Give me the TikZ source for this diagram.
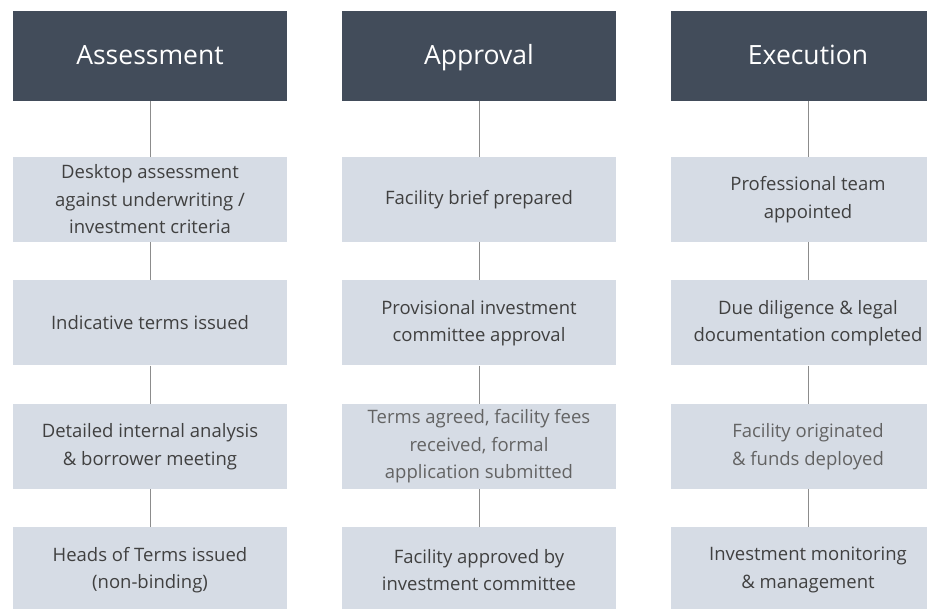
\documentclass[tikz,border=0pt]{standalone}
\usepackage{fontspec}
\setmainfont{Open Sans}
\definecolor{headfill}{HTML}{424C5A}
\definecolor{stepfill}{HTML}{D6DCE5}
\definecolor{steptext}{HTML}{404040}
\definecolor{softtext}{HTML}{636363}
\definecolor{linkgray}{HTML}{8C8C8C}
\begin{document}
\begin{tikzpicture}[x=1pt,y=-1pt,
  head/.style={fill=headfill, text=white, minimum width=274pt, minimum height=90pt, inner sep=0pt, text height=24pt, text depth=6pt, font=\fontsize{26.5}{32}\selectfont},
  stepbox/.style={fill=stepfill, text=steptext, minimum width=274pt, minimum height=85pt, inner sep=0pt, align=center, font=\fontsize{18.5}{27.5}\selectfont},
  soft/.style={text=softtext},
  link/.style={draw=linkgray, line width=1pt}]
\useasboundingbox (0,0) rectangle (927,609);
\clip (0,0) rectangle (927,609);

% Assessment
\node[head] (h1) at (150,56) {Assessment};
\node[stepbox] (a1) at (150,199.5) {Desktop assessment\\against underwriting /\\investment criteria};
\node[stepbox] (a2) at (150,323) {Indicative terms issued};
\node[stepbox] (a3) at (150,446.5) {Detailed internal analysis\\\& borrower meeting};
\node[stepbox] (a4) at (150,570) {Heads of Terms issued\\(non-binding)};

% Approval
\node[head] (h2) at (479,56) {Approval};
\node[stepbox] (p1) at (479,199.5) {Facility brief prepared};
\node[stepbox] (p2) at (479,323) {Provisional investment\\committee approval};
\node[stepbox,soft] (p3) at (479,446.5) {Terms agreed, facility fees\\received, formal\\application submitted};
\node[stepbox] (p4) at (479,570) {Facility approved by\\investment committee};

% Execution
\node[head] (h3) at (808,56) {Execution};
\node[stepbox] (e1) at (808,199.5) {Professional team\\appointed};
\node[stepbox] (e2) at (808,323) {Due diligence \& legal\\documentation completed};
\node[stepbox,soft] (e3) at (808,446.5) {Facility originated\\\& funds deployed};
\node[stepbox] (e4) at (808,570) {Investment monitoring\\\& management};

\path[link] (h1) -- (a1);
\path[link] (a1) -- (a2);
\path[link] (a2) -- (a3);
\path[link] (a3) -- (a4);
\path[link] (h2) -- (p1);
\path[link] (p1) -- (p2);
\path[link] (p2) -- (p3);
\path[link] (p3) -- (p4);
\path[link] (h3) -- (e1);
\path[link] (e1) -- (e2);
\path[link] (e2) -- (e3);
\path[link] (e3) -- (e4);
\end{tikzpicture}
\end{document}
